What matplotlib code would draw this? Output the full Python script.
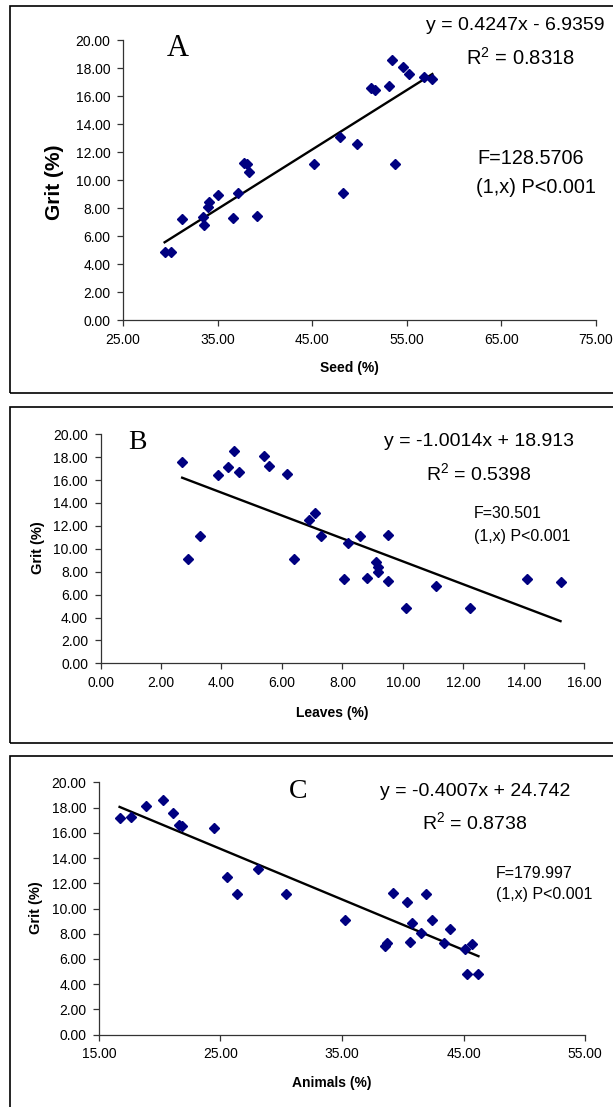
import matplotlib.pyplot as plt
from matplotlib.patches import Rectangle

plt.rcParams['font.family'] = 'Liberation Sans'
plt.rcParams['mathtext.fontset'] = 'custom'
plt.rcParams['mathtext.rm'] = 'Liberation Sans'
plt.rcParams['mathtext.it'] = 'Liberation Sans'

# panel A: seed
seed_x = [29.4, 30.1, 31.2, 33.5, 33.6, 34.0, 34.1, 35.0, 36.6, 37.2, 37.8, 38.1, 38.3, 39.2,
          45.2, 47.9, 48.3, 49.7, 51.2, 51.6, 53.1, 53.4, 53.8, 54.6, 55.2, 56.8, 57.7]
seed_y = [4.85, 4.85, 7.2, 7.35, 6.8, 8.1, 8.4, 8.9, 7.3, 9.1, 11.25, 11.15, 10.55, 7.4,
          11.15, 13.1, 9.1, 12.55, 16.55, 16.4, 16.75, 18.6, 11.15, 18.1, 17.6, 17.35, 17.2]
seed_fit = (0.4247, -6.9359)

# panel B: leaves
leaves_x = [2.70, 2.88, 3.30, 3.90, 4.20, 4.42, 4.59, 5.40, 5.58, 6.18, 6.40, 6.88, 7.08, 7.30,
            8.06, 8.19, 8.59, 8.80, 9.11, 9.19, 9.19, 9.50, 9.50, 10.09, 11.09, 12.21, 14.10, 15.21]
leaves_y = [17.6, 9.08, 11.12, 16.42, 17.15, 18.57, 16.68, 18.11, 17.26, 16.56, 9.1, 12.55, 13.13, 11.12,
            7.34, 10.51, 11.15, 7.45, 8.88, 8.41, 8.01, 11.24, 7.22, 4.86, 6.72, 4.86, 7.34, 7.10]
leaves_fit = (-1.0014, 18.913)

# panel C: animals
animals_x = [16.7, 17.67, 18.89, 20.27, 21.11, 21.56, 21.85, 24.49, 25.55, 26.38, 28.05, 30.4, 35.23, 38.54,
             38.73, 39.15, 40.34, 40.63, 40.76, 41.46, 41.91, 42.43, 43.36, 43.91, 45.1, 45.29, 45.71, 46.22]
animals_y = [17.17, 17.28, 18.1, 18.6, 17.57, 16.64, 16.57, 16.35, 12.52, 11.12, 13.1, 11.12, 9.09, 7.05,
             7.24, 11.23, 10.49, 7.37, 8.88, 8.08, 11.12, 9.09, 7.29, 8.38, 6.76, 4.83, 7.16, 4.83]
animals_fit = (-0.4007, 24.742)

W, H = 613, 1107
fig = plt.figure(figsize=(W / 100, H / 100), dpi=100)


def fx(px):
    return px / W


def fy(py):
    return 1 - py / H


def panel(l, r, t, b, xs, ys, fit, xticks, xlab, ylab_size, ylab_x, xlab_y, ylab_y):
    ax = fig.add_axes([fx(l), fy(b), fx(r - l), (b - t) / H])
    ax.plot(xs, ys, 'D', color='#000080', ms=5.2, mec='#000080', zorder=3)
    x0, x1 = min(xs), max(xs)
    ax.plot([x0, x1], [fit[0] * x0 + fit[1], fit[0] * x1 + fit[1]], color='black', lw=1.7)
    ax.set_xlim(xticks[0], xticks[-1])
    ax.set_ylim(0, 20)
    ax.set_xticks(xticks)
    ax.set_yticks(range(0, 21, 2))
    ax.set_xticklabels(['%.2f' % v for v in xticks], fontsize=10)
    ax.set_yticklabels(['%.2f' % v for v in range(0, 21, 2)], fontsize=10)
    for s in ['top', 'right']:
        ax.spines[s].set_visible(False)
    for s in ['left', 'bottom']:
        ax.spines[s].set_color('#333333')
        ax.spines[s].set_linewidth(0.9)
    ax.tick_params(length=4, width=0.9, color='#333333', pad=5)
    fig.text(fx(ylab_x), fy(ylab_y), 'Grit (%)', rotation=90, fontsize=ylab_size,
             fontweight='bold', ha='center', va='center')
    fig.text(fx((l + r) / 2 - 10), fy(xlab_y), xlab, fontsize=10, fontweight='bold',
             ha='center', va='center')
    return ax


panel(123, 596, 40, 320, seed_x, seed_y, seed_fit, [25, 35, 45, 55, 65, 75],
      'Seed (%)', 15, 55, 368, 182)
panel(100.5, 584.4, 434.3, 663.3, leaves_x, leaves_y, leaves_fit, list(range(0, 17, 2)),
      'Leaves (%)', 10.5, 38, 713, 548)
panel(98.9, 585.2, 782.3, 1034.7, animals_x, animals_y, animals_fit, [15, 25, 35, 45, 55],
      'Animals (%)', 10.5, 36, 1083, 908)

# frames around each panel
for top, bot in [(6, 393), (407, 743), (756, 1120)]:
    fig.patches.append(Rectangle((fx(10), fy(bot)), 1.1, (bot - top) / H, fill=False,
                                 ec='black', lw=1.2, transform=fig.transFigure, figure=fig))

# panel letters
fig.text(fx(178), fy(48), 'A', family='Liberation Serif', fontsize=22, ha='center', va='center')
fig.text(fx(137), fy(443), 'B', family='Liberation Serif', fontsize=20, ha='center', va='center')
fig.text(fx(298), fy(792), 'C', family='Liberation Serif', fontsize=20, ha='center', va='center')

# equations
fig.text(fx(426), fy(26), 'y = 0.4247x - 6.9359', fontsize=14, ha='left', va='center')
fig.text(fx(520), fy(58), 'R$^2$ = 0.8318', fontsize=14.5, ha='center', va='center')
fig.text(fx(477), fy(159), 'F=128.5706', fontsize=14.3, ha='left', va='center')
fig.text(fx(476), fy(187), '(1,x) P<0.001', fontsize=14.3, ha='left', va='center')

fig.text(fx(479), fy(442), 'y = -1.0014x + 18.913', fontsize=14, ha='center', va='center')
fig.text(fx(479), fy(473), 'R$^2$ = 0.5398', fontsize=14, ha='center', va='center')
fig.text(fx(474), fy(514), 'F=30.501', fontsize=11.5, ha='left', va='center')
fig.text(fx(474), fy(537), '(1,x) P<0.001', fontsize=11.5, ha='left', va='center')

fig.text(fx(475), fy(792), 'y = -0.4007x + 24.742', fontsize=14, ha='center', va='center')
fig.text(fx(475), fy(822), 'R$^2$ = 0.8738', fontsize=14, ha='center', va='center')
fig.text(fx(496), fy(873), 'F=179.997', fontsize=11.5, ha='left', va='center')
fig.text(fx(496), fy(895), '(1,x) P<0.001', fontsize=11.5, ha='left', va='center')

fig.savefig('out.png', dpi=100)
